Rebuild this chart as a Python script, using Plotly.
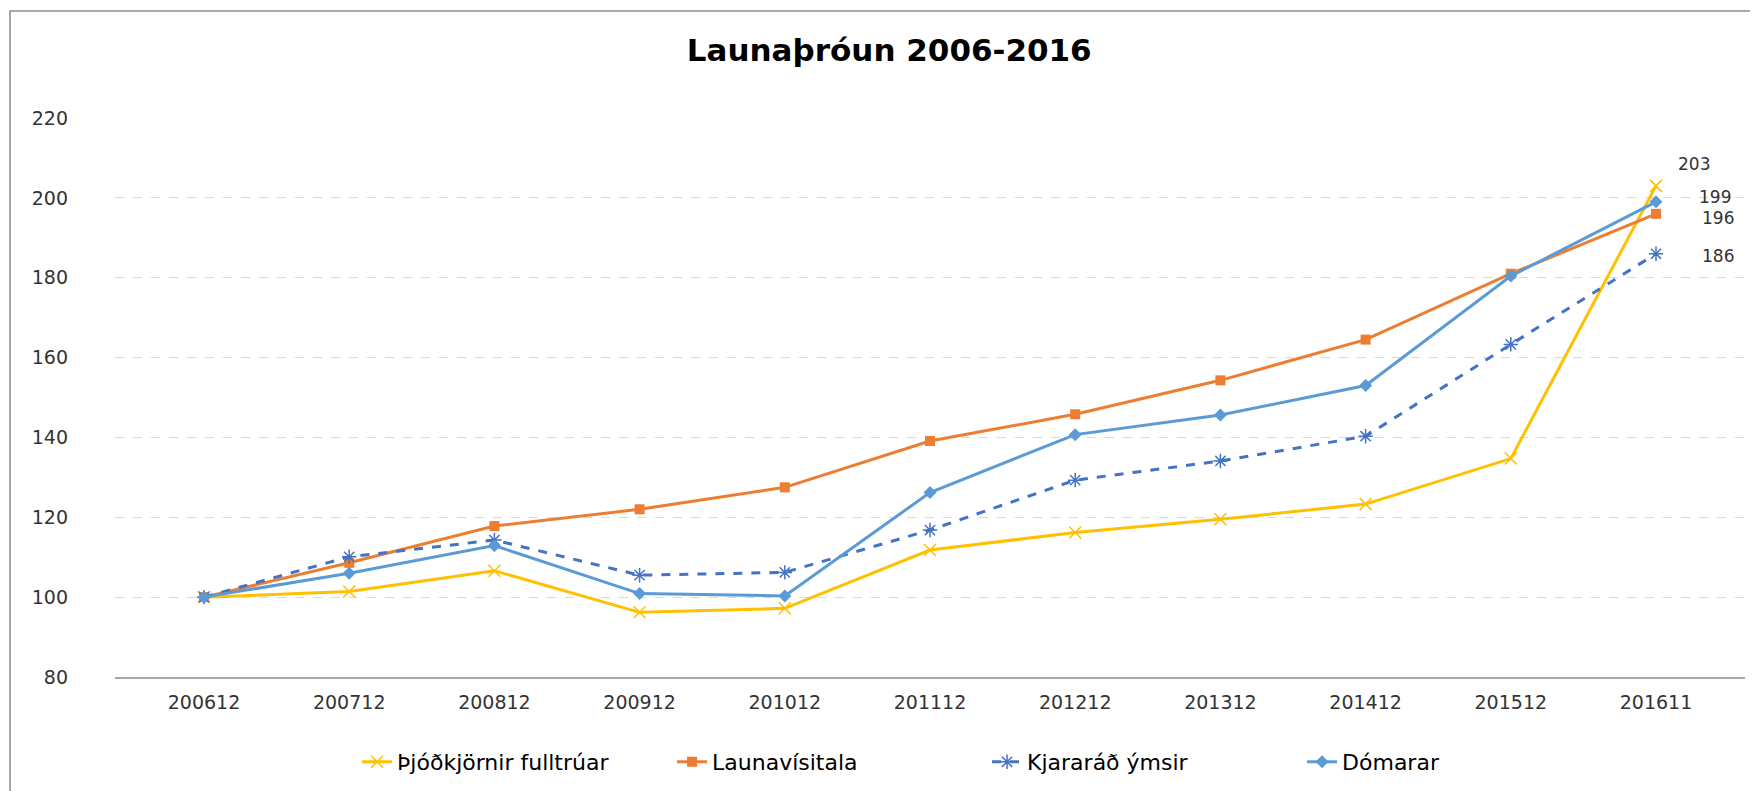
import plotly.graph_objects as go

categories = ["200612", "200712", "200812", "200912", "201012", "201112",
              "201212", "201312", "201412", "201512", "201611"]

thjodkjornir = [100, 101.4, 106.6, 96.2, 97.2, 111.8, 116.2, 119.5, 123.3, 134.7, 203]
launavisitala = [100, 108.6, 117.8, 122.0, 127.5, 139.1, 145.8, 154.3, 164.5, 181.0, 196]
kjararad = [100, 110.1, 114.3, 105.5, 106.2, 116.8, 129.3, 134.1, 140.3, 163.3, 186]
domarar = [100, 106.0, 112.9, 100.9, 100.3, 126.2, 140.7, 145.6, 153.0, 180.4, 199]

series_names = ["Þjóðkjörnir fulltrúar", "Launavísitala", "Kjararáð ýmsir", "Dómarar"]
y_ticks = [80, 100, 120, 140, 160, 180, 200, 220]
title_text = "Launaþróun 2006-2016"

FONT = "DejaVu Sans"
TXT = "#333333"

fig = go.Figure()

fig.add_trace(go.Scatter(
    x=categories, y=thjodkjornir, name=series_names[0], mode="lines+markers",
    line=dict(color="#FFC000", width=3),
    marker=dict(symbol="x-thin-open", size=12, color="#FFC000",
                line=dict(color="#FFC000", width=1.5)),
))
fig.add_trace(go.Scatter(
    x=categories, y=launavisitala, name=series_names[1], mode="lines+markers",
    line=dict(color="#ED7D31", width=3),
    marker=dict(symbol="square", size=10, color="#ED7D31"),
))
fig.add_trace(go.Scatter(
    x=categories, y=kjararad, name=series_names[2], mode="lines+markers",
    line=dict(color="#4472C4", width=3, dash="dash"),
    marker=dict(symbol="asterisk-open", size=12, color="#4472C4",
                line=dict(color="#4472C4", width=1.5)),
))
fig.add_trace(go.Scatter(
    x=categories, y=domarar, name=series_names[3], mode="lines+markers",
    line=dict(color="#5B9BD5", width=3),
    marker=dict(symbol="diamond", size=10, color="#5B9BD5"),
))

# Data labels on the final points (x given as category index)
last_idx = len(categories) - 1
label_offsets = [(20, 22, thjodkjornir), (44, -4, launavisitala), (44, -2, kjararad), (41, 5, domarar)]
for xs, ys, vals in label_offsets:
    fig.add_annotation(
        x=last_idx, y=vals[-1], text=str(round(vals[-1])),
        showarrow=False, xanchor="left", yanchor="middle",
        xshift=xs, yshift=ys,
        font=dict(family=FONT, size=17, color=TXT),
    )

# Chart border
fig.add_shape(type="rect", xref="paper", yref="paper",
              x0=-0.0644, x1=1.0074, y0=-0.25, y1=1.1914,
              line=dict(color="#8c8c8c", width=1.5), fillcolor="rgba(0,0,0,0)",
              layer="below")

fig.update_layout(
    width=1750, height=783,
    margin=dict(l=107, r=13, t=110, b=114, autoexpand=False),
    paper_bgcolor="white", plot_bgcolor="white",
    title=dict(text=title_text, xref="paper", x=0.475, xanchor="center",
               y=0.946, yanchor="middle",
               font=dict(family=FONT, size=31, color="black", weight="bold")),
    showlegend=True,
    legend=dict(orientation="h", x=0.535, xanchor="center", y=-0.152, yanchor="middle",
                font=dict(family=FONT, size=22, color="black"),
                itemwidth=30, traceorder="normal", entrywidth=270),
    xaxis=dict(type="category", categoryorder="array", categoryarray=categories,
               showgrid=False, showline=True, linecolor="#a6a6a6", linewidth=2,
               ticks="", tickfont=dict(family=FONT, size=19, color=TXT),
               ticklabelstandoff=7, zeroline=False),
    yaxis=dict(range=[80, 220], tickvals=y_ticks, showgrid=True,
               gridcolor="#d9d9d9", griddash="dash", gridwidth=1,
               showline=False, zeroline=False, ticks="",
               tickfont=dict(family=FONT, size=19, color=TXT),
               ticklabelstandoff=46),
)

fig.write_html("out.html")
